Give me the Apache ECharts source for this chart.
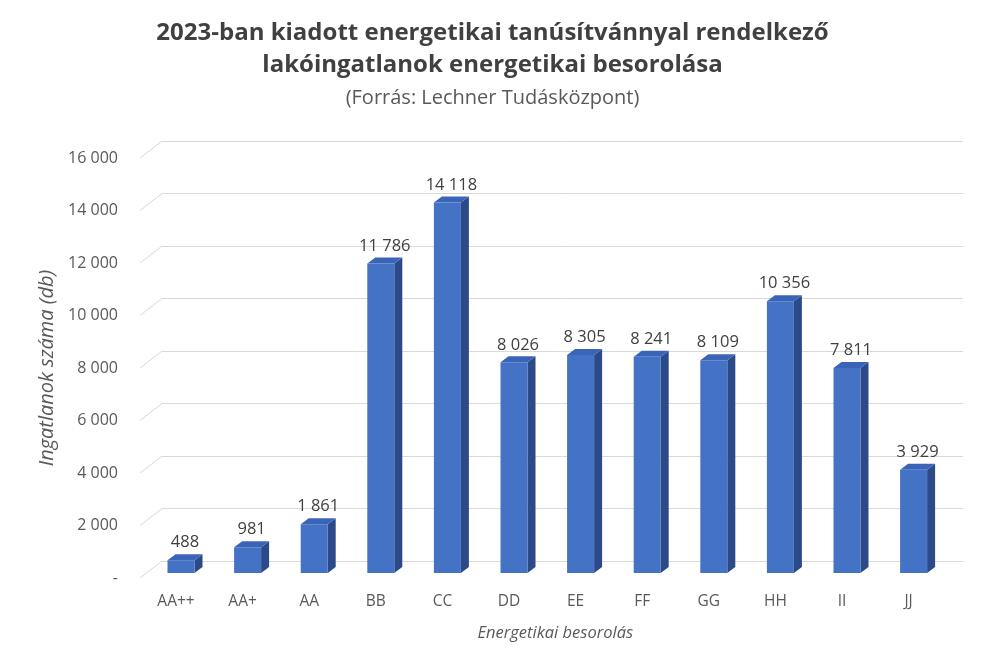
<!DOCTYPE html>
<html><head><meta charset="utf-8">
<script src="https://cdn.jsdelivr.net/npm/echarts@6/dist/echarts.min.js"></script>
<style>html,body{margin:0;padding:0;background:#fff}#c{width:985px;height:657px}</style>
</head><body><div id="c"></div>
<script>
const categories = ['AA++','AA+','AA','BB','CC','DD','EE','FF','GG','HH','II','JJ'];
const values = [488, 981, 1861, 11786, 14118, 8026, 8305, 8241, 8109, 10356, 7811, 3929];
const yTicks = [0, 2000, 4000, 6000, 8000, 10000, 12000, 14000, 16000];
const titleText = '2023-ban kiadott energetikai tanúsítvánnyal rendelkező\nlakóingatlanok energetikai besorolása';
const subtitleText = '(Forrás: Lechner Tudásközpont)';
const yName = 'Ingatlanok száma (db)';
const xName = 'Energetikai besorolás';

const fmtLbl = v => v === 0 ? '-' : String(v).replace(/\B(?=(\d{3})+(?!\d))/g, ' ');
const FONT = '"Open Sans", "Liberation Sans", Arial, sans-serif';
const GRAY = '#595959';
const DX = 8, DY = 6, BW = 27, OFF = 5;

const chart = echarts.init(document.getElementById('c'));
chart.setOption({
  backgroundColor: '#fff',
  animation: false,
  title: [
    {text: titleText, left: 'center', top: 12, textStyle: {fontFamily: FONT, fontSize: 24, fontWeight: 'bold', color: '#404040', lineHeight: 32}},
    {text: subtitleText, left: 'center', top: 83, textStyle: {fontFamily: FONT, fontSize: 20, fontWeight: 'normal', color: GRAY}}
  ],
  grid: [
    {left: 162, right: 22, top: 141, bottom: 96},
    {left: 140, right: 22, top: 158, bottom: 79},
    {left: 142.7, right: 43.1, top: 153, bottom: 84}
  ],
  xAxis: [
    {gridIndex: 0, type: 'category', data: categories, show: false},
    {gridIndex: 1, type: 'category', data: categories, show: false},
    {gridIndex: 2, type: 'category', data: categories,
     axisLine: {show: false}, axisTick: {show: false},
     axisLabel: {margin: 21, color: GRAY, fontSize: 15.5, fontFamily: FONT},
     name: xName, nameLocation: 'middle', nameGap: 52,
     nameTextStyle: {fontStyle: 'italic', color: GRAY, fontSize: 16.5, fontFamily: FONT, padding: [0, 0, 0, 26]}}
  ],
  yAxis: [
    {gridIndex: 0, type: 'value', min: 0, max: 16000, interval: 2000,
     axisLine: {show: false}, axisTick: {show: false}, axisLabel: {show: false},
     splitLine: {lineStyle: {color: '#d9d9d9', width: 1}}},
    {gridIndex: 1, type: 'value', min: 0, max: 16000, interval: 2000,
     axisLine: {show: false}, axisTick: {show: false}, splitLine: {show: false},
     axisLabel: {margin: 22, color: GRAY, fontSize: 16, fontFamily: FONT, formatter: fmtLbl},
     name: yName, nameLocation: 'middle', nameGap: 80, nameRotate: 90,
     nameTextStyle: {fontStyle: 'italic', color: GRAY, fontSize: 20, fontFamily: FONT}},
    {gridIndex: 2, type: 'value', min: 0, max: 16000, interval: 2000, show: false}
  ],
  series: [
    {
      type: 'custom', xAxisIndex: 0, yAxisIndex: 0, silent: true,
      data: yTicks.map(v => [0, v]),
      renderItem: function (params, api) {
        const p = api.coord([0, api.value(1)]);
        const x0 = params.coordSys.x;
        return {type: 'line', shape: {x1: x0 - 22, y1: p[1] + 17, x2: x0, y2: p[1]},
                style: {stroke: '#d9d9d9', lineWidth: 1}};
      }
    },
    {
      type: 'custom', xAxisIndex: 2, yAxisIndex: 2,
      data: values.map((v, i) => [i, v]),
      renderItem: function (params, api) {
        const top = api.coord([api.value(0), api.value(1)]);
        const base = api.coord([api.value(0), 0]);
        const x = top[0] + OFF - BW / 2;
        const y = top[1], b = base[1];
        return {type: 'group', children: [
          {type: 'polygon', shape: {points: [[x + BW, y], [x + BW + DX, y - DY], [x + BW + DX, b - DY], [x + BW, b]]},
           style: {fill: '#2c4a87'}},
          {type: 'polygon', shape: {points: [[x, y], [x + DX, y - DY], [x + BW + DX, y - DY], [x + BW, y]]},
           style: {fill: '#3a64b8'}},
          {type: 'rect', shape: {x: x, y: y, width: BW, height: b - y},
           style: {fill: '#4472c4'}},
          {type: 'text', style: {text: fmtLbl(api.value(1)), x: x + (BW + DX) / 2, y: y - DY - 3,
            align: 'center', verticalAlign: 'bottom', fill: '#404040', fontSize: 16.5, fontFamily: FONT}}
        ]};
      }
    }
  ]
});
</script></body></html>
